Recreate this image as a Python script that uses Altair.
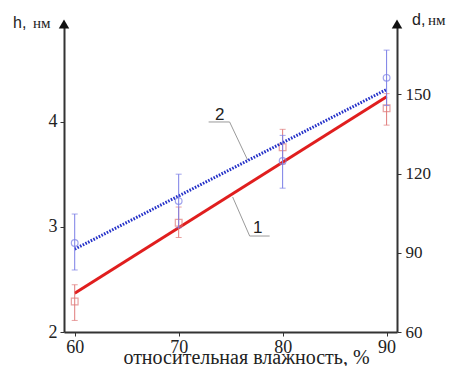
import altair as alt
import pandas as pd

# ---- data ----
humidity = [60, 70, 80, 90]
h_mean = [2.29, 3.04, 3.76, 4.13]
h_low = [2.11, 2.90, 3.60, 3.97]
h_high = [2.45, 3.19, 3.93, 4.27]
fit_x = [60, 90]
h_fit = [2.37, 4.24]

d_mean = [93.7, 109.6, 124.8, 156.3]
d_low = [83.5, 99.5, 114.5, 145.8]
d_high = [104.7, 119.8, 134.5, 166.8]
d_fit = [91.4, 151.9]

x_ticks = [60, 70, 80, 90]
h_ticks = [2, 3, 4]
d_ticks = [60, 90, 120, 150]
x_dom = [58.97, 91.0]
h_dom = [2, 4.933]
d_dom = [60, 176.7]

# leader lines for curve labels (data coords on x / h scale)
lead2_x = [72.88, 74.90, 76.63]
lead2_y = [4.00, 4.00, 3.638]
lead1_x = [75.19, 76.83, 78.75]
lead1_y = [3.286, 2.914, 2.914]
lab_x = [73.94, 77.6]
lab_y = [4.067, 2.99]
lab_t = ["2", "1"]

RED = "#e01e1e"
RED_L = "#e07a7a"
BLUE = "#2430c8"
BLUE_L = "#7a7ee6"
SERIF = "Liberation Serif"
SANS = "Liberation Sans"

pts = pd.DataFrame({"x": humidity, "h": h_mean, "hl": h_low, "hh": h_high,
                    "d": d_mean, "dl": d_low, "dh": d_high})
fit = pd.DataFrame({"x": fit_x, "h": h_fit, "d": d_fit})
l2 = pd.DataFrame({"x": lead2_x, "h": lead2_y, "o": [0, 1, 2]})
l1 = pd.DataFrame({"x": lead1_x, "h": lead1_y, "o": [0, 1, 2]})
labs = pd.DataFrame({"x": lab_x, "h": lab_y, "t": lab_t})
arrows = pd.DataFrame({"x": x_dom, "h": [h_dom[1], h_dom[1]]})

xs = alt.Scale(domain=x_dom, nice=False, zero=False)
hs = alt.Scale(domain=h_dom, nice=False, zero=False)
ds = alt.Scale(domain=d_dom, nice=False, zero=False)

x_axis = alt.Axis(
    values=x_ticks, grid=False, title="относительная влажность, %",
    titleFont=SERIF, titleFontSize=20, titleFontWeight="normal", titleColor="#222",
    titleX=182, titleY=31, titleBaseline="alphabetic", titleAlign="center",
    labelFont=SERIF, labelFontSize=18, labelColor="#222", labelPadding=2,
    tickSize=4, domainWidth=2, domainColor="#333", tickColor="#333")
h_axis = alt.Axis(
    values=h_ticks, grid=False, title=None, labelFont=SERIF, labelFontSize=18,
    labelColor="#222", labelPadding=3, tickSize=4, domainWidth=2,
    domainColor="#333", tickColor="#333")
d_axis = alt.Axis(
    orient="right", values=d_ticks, grid=False, title=None, labelFont=SERIF,
    labelFontSize=17, labelColor="#222", labelPadding=4, tickSize=4,
    domainWidth=2, domainColor="#333", tickColor="#333")

X = alt.X("x:Q", scale=xs, axis=x_axis)

def H(f):
    return alt.Y(f, scale=hs, axis=h_axis)

def D(f):
    return alt.Y(f, scale=ds, axis=d_axis)

def cap(field, color, yfun):
    return alt.Chart(pts).mark_tick(color=color, orient="horizontal", size=6,
                                    thickness=1).encode(x=X, y=yfun(field))

red_line = alt.Chart(fit).mark_line(color=RED, strokeWidth=3).encode(x=X, y=H("h:Q"))
red_bar = alt.Chart(pts).mark_rule(color=RED_L, strokeWidth=1).encode(
    x=X, y=H("hl:Q"), y2="hh:Q")
red_pts = alt.Chart(pts).mark_point(shape="square", filled=False, color=RED_L,
                                    size=45, strokeWidth=1.2).encode(x=X, y=H("h:Q"))
lead_a = alt.Chart(l2).mark_line(color="#9a9a9a", strokeWidth=1).encode(
    x=X, y=H("h:Q"), order="o:Q")
lead_b = alt.Chart(l1).mark_line(color="#9a9a9a", strokeWidth=1).encode(
    x=X, y=H("h:Q"), order="o:Q")
lab_txt = alt.Chart(labs).mark_text(font=SANS, fontSize=17, color="#222").encode(
    x=X, y=H("h:Q"), text="t:N")
arrow_m = alt.Chart(arrows).mark_point(shape="triangle-up", filled=True, color="#111",
                                       size=110, opacity=1).encode(x=X, y=H("h:Q"))

one = pd.DataFrame({"t": ["x"]})
def txt(s, font, size, px, py):
    return alt.Chart(one).mark_text(text=s, font=font, fontSize=size, align="left",
                                     baseline="alphabetic", color="#222").encode(
        x=alt.value(px), y=alt.value(py))

titles = [txt("h,", SANS, 16, -51, 4), txt("нм", SERIF, 15, -31, 4),
          txt("d,", SANS, 16, 348, 1), txt("нм", SERIF, 15, 364, 1)]

left = alt.layer(red_line, red_bar, cap("hl:Q", RED_L, H), cap("hh:Q", RED_L, H),
                 red_pts, lead_a, lead_b, lab_txt, arrow_m, *titles)

blue_line = alt.Chart(fit).mark_line(color=BLUE, strokeWidth=3, strokeDash=[1.6, 1.4]).encode(
    x=X, y=D("d:Q"))
blue_bar = alt.Chart(pts).mark_rule(color=BLUE_L, strokeWidth=1).encode(
    x=X, y=D("dl:Q"), y2="dh:Q")
blue_pts = alt.Chart(pts).mark_point(shape="circle", filled=False, color=BLUE_L,
                                     size=45, strokeWidth=1.2).encode(x=X, y=D("d:Q"))

right = alt.layer(blue_line, blue_bar, cap("dl:Q", BLUE_L, D), cap("dh:Q", BLUE_L, D),
                  blue_pts)

chart = alt.layer(left, right).resolve_scale(y="independent").properties(
    width=333, height=308,
    autosize=alt.AutoSizeParams(type="none"),
    padding={"left": 56, "top": 16, "right": 49, "bottom": 34},
    background="white",
).configure_view(stroke=None)

chart.save("out.html", embed_options={"renderer": "svg", "actions": False})
